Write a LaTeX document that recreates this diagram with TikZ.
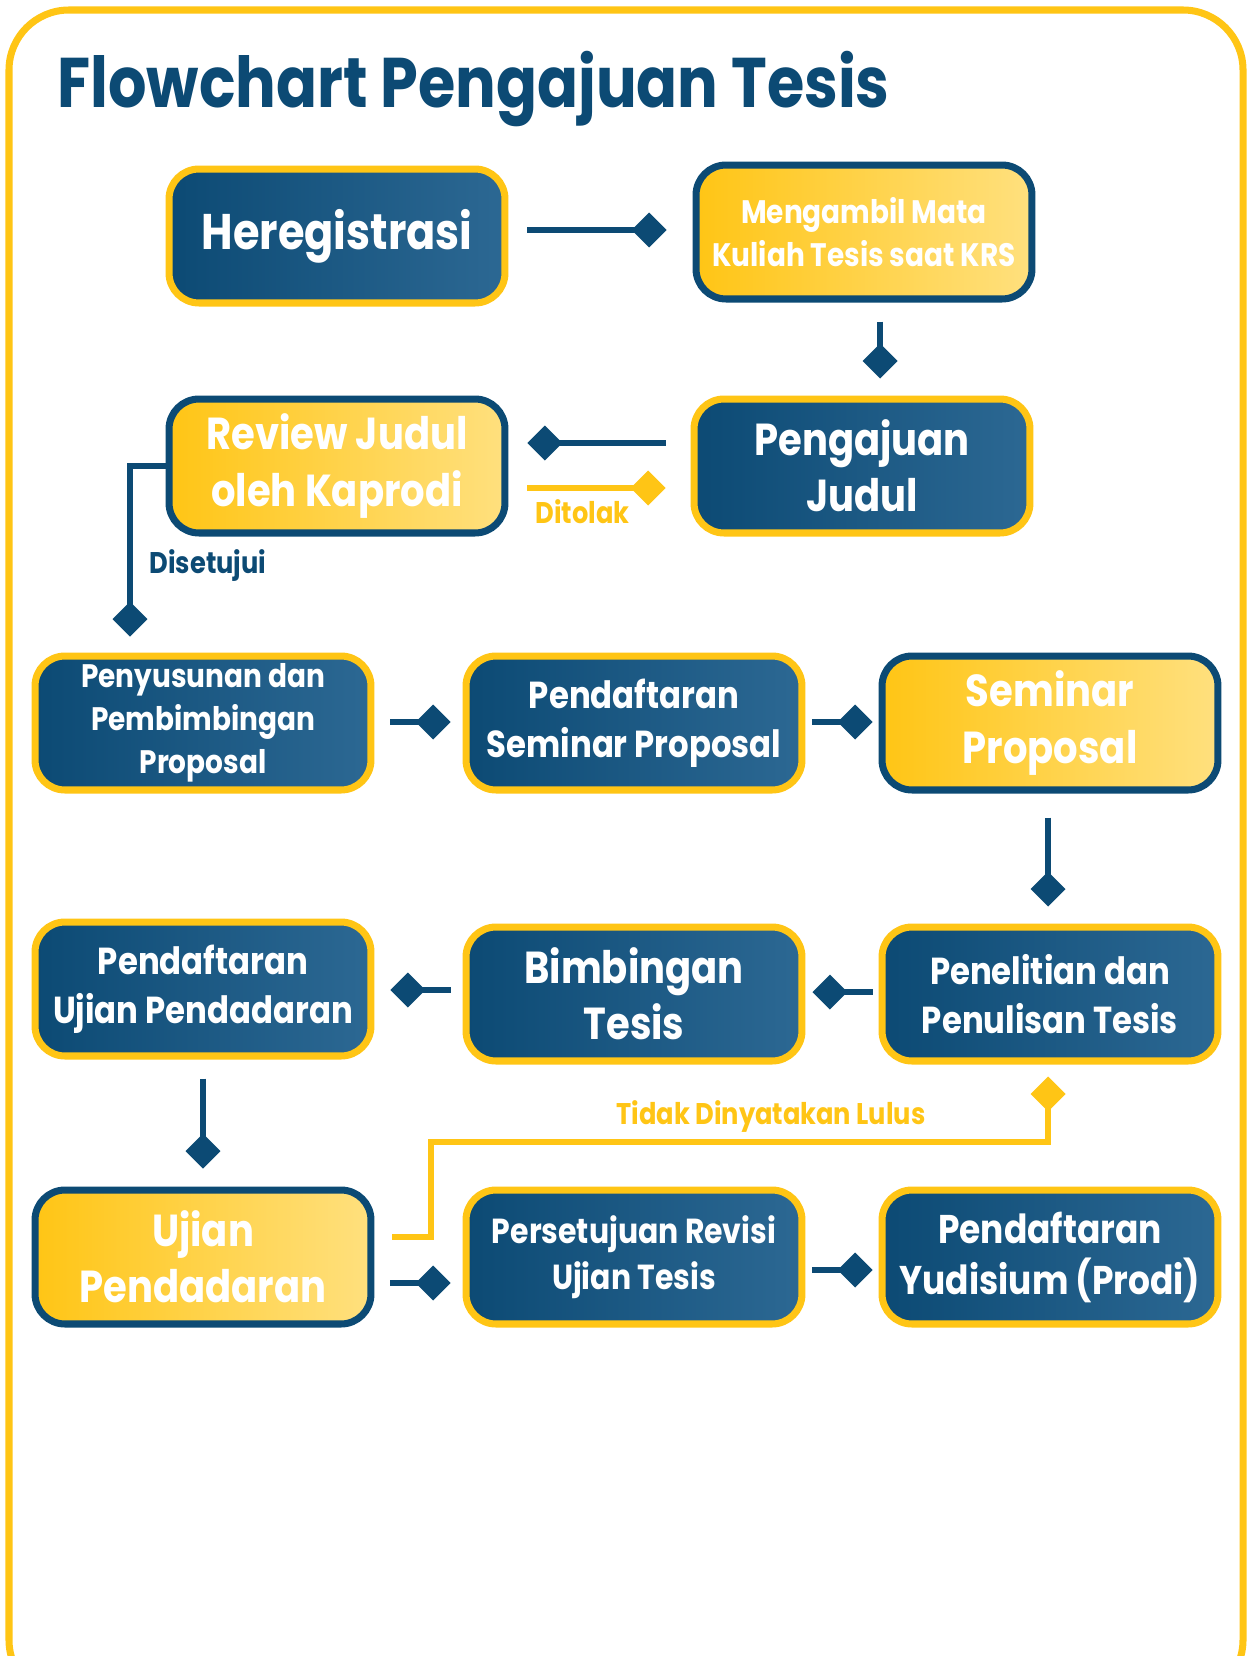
\documentclass[tikz,border=0pt]{standalone}
\usepackage{fontspec}
\setmainfont{Poppins}[FakeStretch=0.86]
\usetikzlibrary{arrows.meta,calc}

\definecolor{navy}{HTML}{0C4A74}
\definecolor{navylight}{HTML}{2C6893}
\definecolor{gold}{HTML}{FFC515}
\definecolor{goldlight}{HTML}{FFE07E}

\tikzset{
  procbox/.style={rounded corners=0.6cm, line width=4pt, minimum width=6.72cm,
    minimum height=2.68cm, inner sep=0pt, align=center, text=white},
  bluebox/.style={procbox, draw=gold, left color=navy, right color=navylight},
  goldbox/.style={procbox, draw=navy, left color=gold, right color=goldlight},
  bigtext/.style={font=\bfseries\fontsize{25.5}{32}\selectfont},
  midtext/.style={font=\bfseries\fontsize{21.4}{28}\selectfont},
  smalltext/.style={font=\bfseries\fontsize{18.5}{24.5}\selectfont},
  flow/.style={navy, line width=3.4pt, -{Turned Square[length=0.7cm,width=0.7cm]}},
  flowgold/.style={flow, gold},
  flowlabel/.style={font=\bfseries\fontsize{17}{20}\selectfont, inner sep=0pt}
}

\begin{document}
\begin{tikzpicture}[x=0.02cm, y=-0.02cm]
   \useasboundingbox (0,0) rectangle (1249,1656);
   \fill[white] (0,0) rectangle (1249,1656);
   \begin{scope}
      \clip (0,0) rectangle (1249,1656);
      \draw[gold, line width=4pt, rounded corners=1.2cm] (9,10) rectangle (1243,1700);
   \end{scope}

   \node[anchor=west, navy, font=\bfseries\fontsize{40}{44}\selectfont, inner sep=0pt] (title) at (57,89) {Flowchart Pengajuan Tesis};

   % row 1
   \node[bluebox, font=\bfseries\fontsize{28.5}{32}\selectfont] (heregis) at (337,236) {Heregistrasi};
   \node[goldbox, smalltext] (mengambil) at (864,232) {Mengambil Mata\\Kuliah Tesis saat KRS};
   % row 2
   \node[goldbox, bigtext] (review) at (337,466) {Review Judul\\oleh Kaprodi};
   \node[bluebox, bigtext] (pengajuan) at (862,466) {Pengajuan\\Judul};
   % row 3
   \node[bluebox, smalltext] (penyusunan) at (203,723) {Penyusunan dan\\Pembimbingan\\Proposal};
   \node[bluebox, midtext] (pendsem) at (634,723) {Pendaftaran\\Seminar Proposal};
   \node[goldbox, bigtext] (seminar) at (1050,723) {Seminar\\Proposal};
   % row 4
   \node[bluebox, midtext] (pendujian) at (203,989) {Pendaftaran\\Ujian Pendadaran};
   \node[bluebox, bigtext] (bimbingan) at (634,994) {Bimbingan\\Tesis};
   \node[bluebox, midtext] (penelitian) at (1050,994) {Penelitian dan\\Penulisan Tesis};
   % row 5
   \node[goldbox, bigtext] (ujian) at (203,1257) {Ujian\\Pendadaran};
   \node[bluebox, font=\bfseries\fontsize{19.8}{26}\selectfont] (persetujuan) at (634,1257) {Persetujuan Revisi\\Ujian Tesis};
   \node[bluebox, font=\bfseries\fontsize{22.8}{29}\selectfont] (yudisium) at (1050,1257) {Pendaftaran\\Yudisium (Prodi)};

   \draw[flow] ($(heregis.east)+(19,-6)$) -- ($(mengambil.west)+(-26,-2)$);
   \draw[flow] ($(mengambil.south)+(16,19)$) -- ($(pengajuan.north)+(18,-17)$);
   \draw[flow] ($(pengajuan.west)+(-25,-23)$) -- ($(review.east)+(19,-23)$);
   \draw[flowgold] ($(review.east)+(19,22)$) -- ($(pengajuan.west)+(-25,22)$)
      node[flowlabel, gold, pos=0.4, below=5pt] (ditolak) {Ditolak};
   \draw[flow] (review.west) -| ($(penyusunan.north)+(-73,-16)$);
   \node[flowlabel, navy] (disetujui) at (208,566) {Disetujui};

   \draw[flow] ($(penyusunan.east)+(16,-1)$) -- ($(pendsem.west)+(-12,-1)$);
   \draw[flow] ($(pendsem.east)+(7,-1)$) -- ($(seminar.west)+(-6,-1)$);
   \draw[flow] ($(seminar.south)+(-2,24)$) -- ($(penelitian.north)+(-2,-17)$);
   \draw[flow] ($(penelitian.west)+(-6,-2)$) -- ($(bimbingan.east)+(7,-2)$);
   \draw[flow] ($(bimbingan.west)+(-12,-4)$) -- ($(pendujian.east)+(16,1)$);
   \draw[flow] ($(pendujian.south)+(0,19)$) -- ($(ujian.north)+(0,-18)$);

   \draw[flowgold] ($(ujian.east)+(18,-20)$) -- ++(39,0) |- ($(penelitian.south)+(-2,77)$)
      -- ($(penelitian.south)+(-2,12)$);
   \node[flowlabel, gold] (tidaklulus) at (771,1116) {Tidak Dinyatakan Lulus};

   \draw[flow] ($(ujian.east)+(16,26)$) -- ($(persetujuan.west)+(-12,26)$);
   \draw[flow] ($(persetujuan.east)+(7,13)$) -- ($(yudisium.west)+(-6,13)$);
\end{tikzpicture}
\end{document}
